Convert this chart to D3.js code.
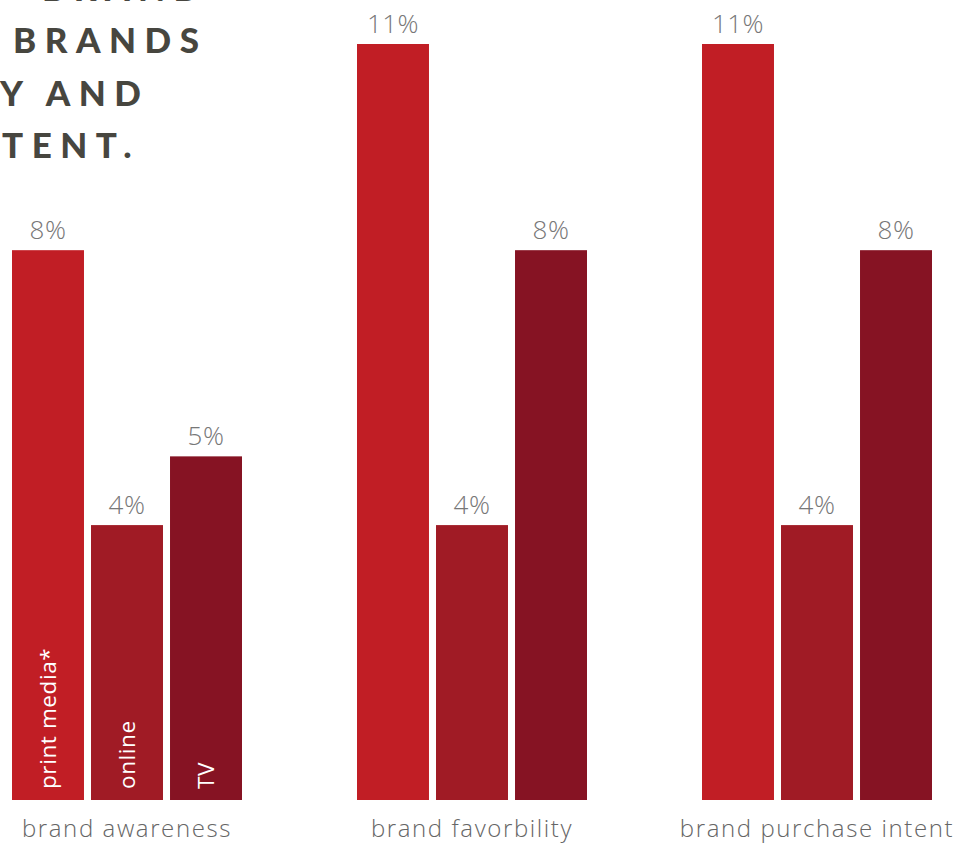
<!DOCTYPE html>
<html>
<head>
<meta charset="utf-8">
<script src="https://cdn.jsdelivr.net/npm/d3@7"></script>
<style>
  html, body { margin: 0; padding: 0; background: #fff; }
  svg { display: block; }
</style>
</head>
<body>
<svg id="chart" width="965" height="846"></svg>
<script>
// Media lift by brand metric, per channel
const metrics = ["brand awareness", "brand favorbility", "brand purchase intent"];
const channels = ["print media*", "online", "TV"];
const printMedia = [8, 11, 11];
const online = [4, 4, 4];
const tv = [5, 8, 8];
const valueLabels = { "print media*": printMedia, "online": online, "TV": tv };
const titleLines = ["BRAND", "BRANDS", "Y AND", "TENT."];

const colors = d3.scaleOrdinal().domain(channels).range(["#c11e25", "#a01b25", "#861323"]);

const svg = d3.select("#chart");
const W = 965, H = 846;

svg.append("rect").attr("width", W).attr("height", H).attr("fill", "#fff");

// Headline fragment in the top-left corner
const title = svg.append("g")
  .attr("font-family", "Lato, 'Open Sans', sans-serif")
  .attr("font-weight", 900)
  .attr("font-size", 35)
  .attr("letter-spacing", 8.5)
  .attr("fill", "#47463f");
const titleX = [42, 13, 0, 2];
const titleY = [1, 53, 106, 158];
title.selectAll("text").data(titleLines).join("text")
  .attr("x", (d, i) => titleX[i])
  .attr("y", (d, i) => titleY[i])
  .text(d => d);

const x0 = d3.scaleBand().domain(metrics).range([12, 12 + 345 * 3]).padding(0);
const groupW = 230;
const x1 = d3.scaleBand().domain(channels).range([0, groupW]).paddingInner(0.089).paddingOuter(0);
const y = d3.scaleLinear().domain([0, 11]).range([800, 44]);

const rows = [];
metrics.forEach((m, i) => {
  channels.forEach(c => rows.push({ metric: m, channel: c, value: valueLabels[c][i], idx: i }));
});

const groups = svg.append("g");

groups.selectAll("rect.bar").data(rows).join("rect")
  .attr("class", "bar")
  .attr("x", d => x0(d.metric) + x1(d.channel))
  .attr("y", d => y(d.value))
  .attr("width", x1.bandwidth())
  .attr("height", d => y(0) - y(d.value))
  .attr("fill", d => colors(d.channel));

// Value labels above bars
groups.selectAll("text.val").data(rows).join("text")
  .attr("class", "val")
  .attr("x", d => x0(d.metric) + x1(d.channel) + x1.bandwidth() / 2)
  .attr("y", d => y(d.value) - 11)
  .attr("text-anchor", "middle")
  .attr("font-family", "'Open Sans', sans-serif")
  .attr("font-weight", 300)
  .attr("font-size", 26)
  .attr("letter-spacing", 0.5)
  .attr("fill", "#777")
  .text(d => d.value + "%");

// Channel names written up the bars of the first group
groups.selectAll("text.chan").data(rows.filter(d => d.idx === 0)).join("text")
  .attr("class", "chan")
  .attr("transform", d => {
    const cx = x0(d.metric) + x1(d.channel) + x1.bandwidth() / 2 + 8;
    return `translate(${cx},789) rotate(-90)`;
  })
  .attr("font-family", "'Open Sans', sans-serif")
  .attr("font-weight", 400)
  .attr("font-size", 22.5)
  .attr("letter-spacing", 0.6)
  .attr("fill", "#fff")
  .text(d => d.channel);

// Metric labels under each group
const xAxis = d3.axisBottom(x0).tickSize(0).tickPadding(0);
const axisG = svg.append("g").attr("transform", "translate(-57.5,820)").call(xAxis);
axisG.select(".domain").remove();
axisG.selectAll("text")
  .attr("font-family", "'Open Sans', sans-serif")
  .attr("font-weight", 300)
  .attr("font-size", 24)
  .attr("letter-spacing", 1.6)
  .attr("fill", "#666")
  .attr("dy", "0.71em");
</script>
</body>
</html>
